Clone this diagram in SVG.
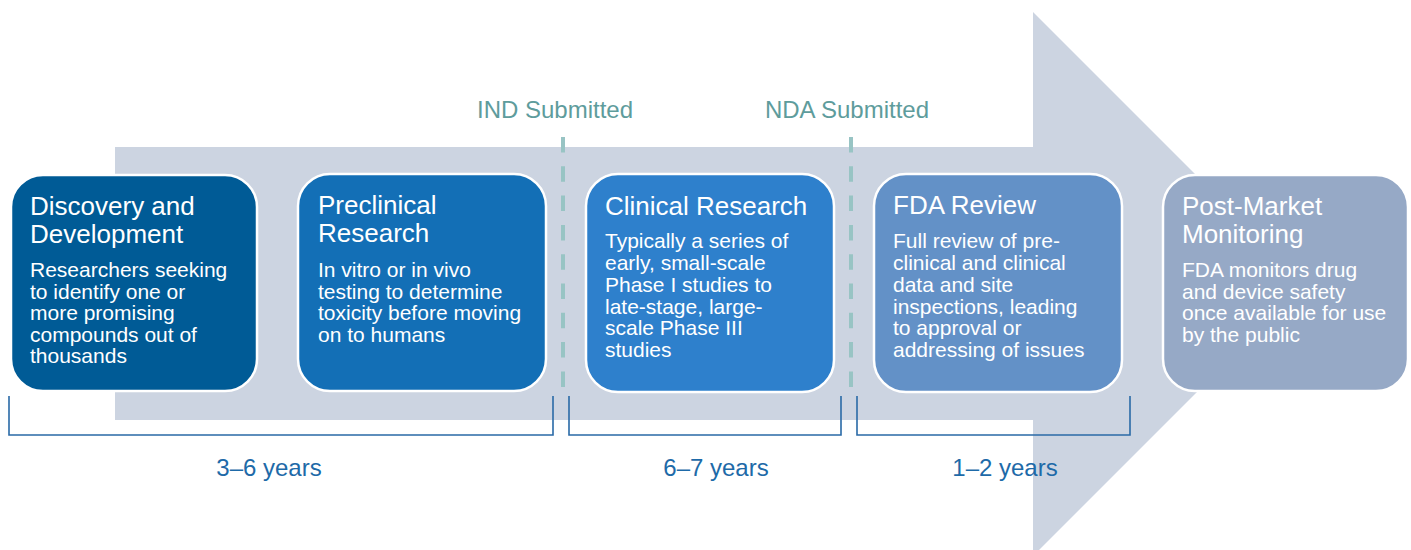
<svg xmlns="http://www.w3.org/2000/svg" width="1411" height="550" viewBox="0 0 1411 550">
  <style>
    .box { stroke: #ffffff; stroke-width: 2.5; }
    .title { font-family: "Liberation Sans", Arial, sans-serif; font-size: 26px; fill: #ffffff; }
    .body { font-family: "Liberation Sans", Arial, sans-serif; font-size: 21px; fill: #ffffff; }
    .milestone { font-family: "Liberation Sans", Arial, sans-serif; font-size: 24px; fill: #5e9c9c; text-anchor: middle; }
    .dash { stroke: #98c4c4; stroke-width: 4; stroke-dasharray: 15.5 13.8; fill: none; }
    .bracket { stroke: #2a6aa7; stroke-width: 1.6; fill: none; }
    .years { font-family: "Liberation Sans", Arial, sans-serif; font-size: 24px; fill: #1e6aa8; text-anchor: middle; }
  </style>
  <rect width="1411" height="550" fill="#ffffff"/>

  <!-- background process arrow -->
  <polygon id="process-arrow" points="115,147 1033,147 1033,12 1305,284 1033,556 1033,420 115,420" fill="#ccd4e1"/>

  <!-- milestone markers and duration brackets -->
  <g id="connectors">
    <line class="dash" x1="563" y1="137" x2="563" y2="387"/>
    <line class="dash" x1="851" y1="137" x2="851" y2="387"/>
    <path class="bracket" d="M9,396 V435 H553 V396"/>
    <path class="bracket" d="M569,396 V435 H841 V396"/>
    <path class="bracket" d="M857,396 V435 H1130 V396"/>
  </g>

  <g id="milestones">
    <text class="milestone" x="555" y="118">IND Submitted</text>
    <text class="milestone" x="847" y="118">NDA Submitted</text>
  </g>

  <g id="durations">
    <text class="years" x="269" y="476">3–6 years</text>
    <text class="years" x="716" y="476">6–7 years</text>
    <text class="years" x="1005" y="476">1–2 years</text>
  </g>

  <g id="discovery">
    <rect class="box" x="11" y="175" width="246" height="216" rx="32" fill="#005b96"/>
    <text class="title" x="30" y="215"><tspan x="30">Discovery and</tspan><tspan x="30" dy="28">Development</tspan></text>
    <text class="body" x="30" y="277">Researchers seeking</text>
    <text class="body" x="30" y="298.5">to identify one or</text>
    <text class="body" x="30" y="320">more promising</text>
    <text class="body" x="30" y="341.5">compounds out of</text>
    <text class="body" x="30" y="363">thousands</text>
  </g>

  <g id="preclinical">
    <rect class="box" x="298" y="174" width="248" height="217" rx="32" fill="#136fb6"/>
    <text class="title" x="318" y="214"><tspan x="318">Preclinical</tspan><tspan x="318" dy="28">Research</tspan></text>
    <text class="body" x="318" y="277">In vitro or in vivo</text>
    <text class="body" x="318" y="298.5">testing to determine</text>
    <text class="body" x="318" y="320">toxicity before moving</text>
    <text class="body" x="318" y="341.5">on to humans</text>
  </g>

  <g id="clinical">
    <rect class="box" x="586" y="174" width="248" height="218" rx="32" fill="#2e80cc"/>
    <text class="title" x="605" y="215">Clinical Research</text>
    <text class="body" x="605" y="248">Typically a series of</text>
    <text class="body" x="605" y="270">early, small-scale</text>
    <text class="body" x="605" y="292">Phase I studies to</text>
    <text class="body" x="605" y="313.5">late-stage, large-</text>
    <text class="body" x="605" y="335">scale Phase III</text>
    <text class="body" x="605" y="357">studies</text>
  </g>

  <g id="fda-review">
    <rect class="box" x="874" y="174" width="248" height="218" rx="32" fill="#6391c7"/>
    <text class="title" x="893" y="214">FDA Review</text>
    <text class="body" x="893" y="248">Full review of pre-</text>
    <text class="body" x="893" y="270">clinical and clinical</text>
    <text class="body" x="893" y="292">data and site</text>
    <text class="body" x="893" y="313.5">inspections, leading</text>
    <text class="body" x="893" y="335">to approval or</text>
    <text class="body" x="893" y="357">addressing of issues</text>
  </g>

  <g id="post-market">
    <rect class="box" x="1163" y="175" width="245" height="216" rx="32" fill="#96a9c6"/>
    <text class="title" x="1182" y="215"><tspan x="1182">Post-Market</tspan><tspan x="1182" dy="28">Monitoring</tspan></text>
    <text class="body" x="1182" y="277">FDA monitors drug</text>
    <text class="body" x="1182" y="298.5">and device safety</text>
    <text class="body" x="1182" y="320">once available for use</text>
    <text class="body" x="1182" y="341.5">by the public</text>
  </g>
</svg>
